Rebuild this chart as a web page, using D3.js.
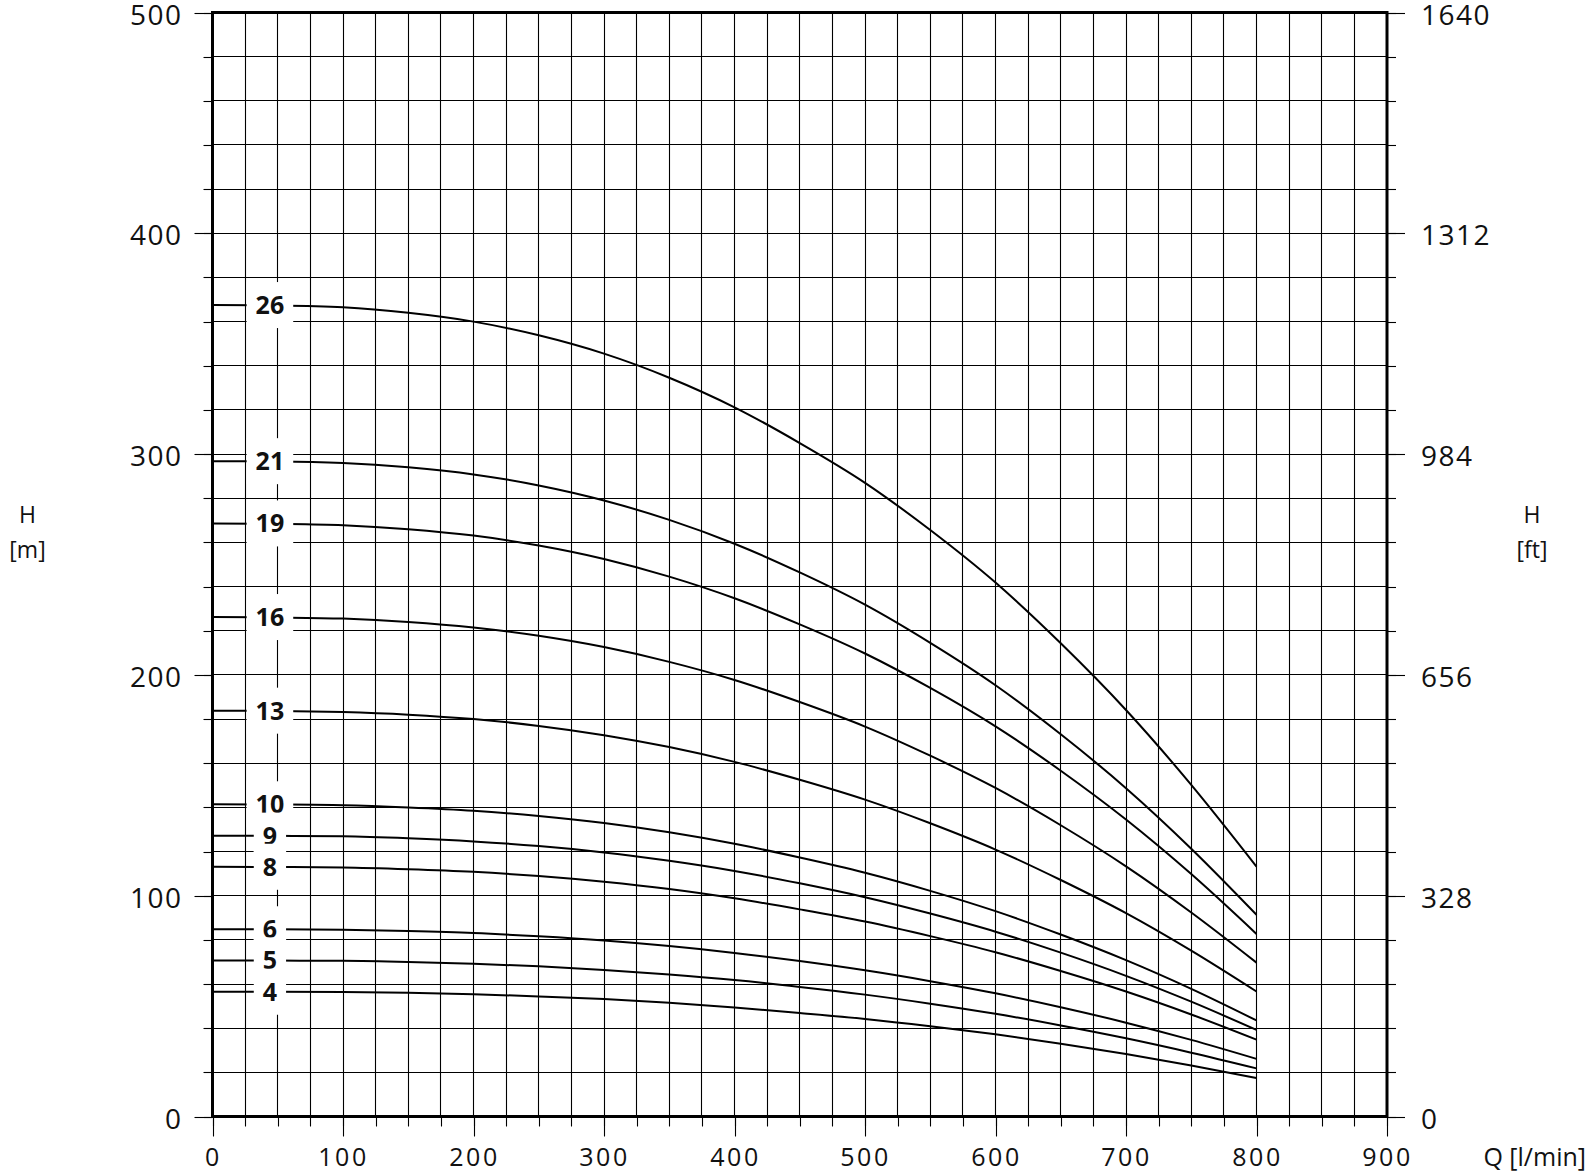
<!DOCTYPE html>
<html>
<head>
<meta charset="utf-8">
<script src="https://cdn.jsdelivr.net/npm/d3@7/dist/d3.min.js"></script>
<style>
  body { margin: 0; background: #fff; }
  text { font-family: "Open Sans", sans-serif; fill: #111; }
</style>
</head>
<body>
<div id="chart"></div>
<script>
// Flow points (l/min) shared by every curve
const flow = [0, 50, 100, 150, 200, 250, 300, 350, 400, 450, 500, 550, 600, 650, 700, 750, 800];

// Head (m) for each stage count
const head26 = [367.5, 367.3, 366.5, 364.0, 360.0, 353.8, 345.5, 334.6, 321.2, 305.0, 287.0, 265.6, 241.8, 214.3, 184.1, 150.2, 113.2];
const head21 = [296.8, 296.7, 296.0, 294.0, 290.8, 285.8, 279.0, 270.2, 259.4, 246.4, 231.8, 214.5, 195.3, 173.1, 148.7, 121.3, 91.4];
const head19 = [268.6, 268.4, 267.8, 266.0, 263.1, 258.6, 252.5, 244.5, 234.7, 222.9, 209.7, 194.1, 176.7, 156.6, 134.5, 109.8, 82.7];
const head16 = [226.2, 226.0, 225.5, 224.0, 221.5, 217.7, 212.6, 205.9, 197.7, 187.7, 176.6, 163.4, 148.8, 131.9, 113.3, 92.4, 69.7];
const head13 = [183.8, 183.7, 183.2, 182.0, 180.0, 176.9, 172.7, 167.3, 160.6, 152.5, 143.5, 132.8, 120.9, 107.1, 92.1, 75.1, 56.6];
const head10 = [141.4, 141.3, 141.0, 140.0, 138.5, 136.1, 132.9, 128.7, 123.5, 117.3, 110.4, 102.2, 93.0, 82.4, 70.8, 57.8, 43.5];
const head9  = [127.2, 127.1, 126.9, 126.0, 124.6, 122.5, 119.6, 115.8, 111.2, 105.6, 99.3, 91.9, 83.7, 74.2, 63.7, 52.0, 39.2];
const head8  = [113.1, 113.0, 112.8, 112.0, 110.8, 108.9, 106.3, 103.0, 98.8, 93.8, 88.3, 81.7, 74.4, 65.9, 56.6, 46.2, 34.8];
const head6  = [84.8, 84.8, 84.6, 84.0, 83.1, 81.6, 79.7, 77.2, 74.1, 70.4, 66.2, 61.3, 55.8, 49.5, 42.5, 34.7, 26.1];
const head5  = [70.7, 70.6, 70.5, 70.0, 69.2, 68.0, 66.4, 64.3, 61.8, 58.7, 55.2, 51.1, 46.5, 41.2, 35.4, 28.9, 21.8];
const head4  = [56.5, 56.5, 56.4, 56.0, 55.4, 54.4, 53.2, 51.5, 49.4, 46.9, 44.2, 40.9, 37.2, 33.0, 28.3, 23.1, 17.4];

const stages = ['26', '21', '19', '16', '13', '10', '9', '8', '6', '5', '4'];
const heads = [head26, head21, head19, head16, head13, head10, head9, head8, head6, head5, head4];

// Axis ticks
const xMajor = [0, 100, 200, 300, 400, 500, 600, 700, 800, 900];
const xMinor = d3.range(0, 901, 25);
const yMajor = [0, 100, 200, 300, 400, 500];
const yMinor = d3.range(0, 501, 20);
const ftMajor = [0, 328, 656, 984, 1312, 1640];

let width = 1588, height = 1173;
let plot = { left: 212.5, right: 1387, top: 12.5, bottom: 1116.5 };

let svg = d3.select('#chart')
    .append('svg')
    .attr('width', width)
    .attr('height', height)
    .style('background', 'white');

let xScale = d3.scaleLinear().domain([0, 900]).range([plot.left, plot.right]);
let yScale = d3.scaleLinear().domain([0, 500]).range([plot.bottom, plot.top]);
let ftScale = d3.scaleLinear().domain([0, 1640]).range([plot.bottom, plot.top]);

// snap a scaled position to the middle of a pixel so 1px lines stay sharp
const snap = v => Math.round(v - 0.5) + 0.5;

// Grid
svg.append('g')
    .selectAll('line')
    .data(xMinor.slice(1, -1))
    .enter().append('line')
    .attr('x1', d => snap(xScale(d))).attr('x2', d => snap(xScale(d)))
    .attr('y1', plot.top).attr('y2', plot.bottom)
    .attr('stroke', 'black').attr('stroke-width', 1.1);

svg.append('g')
    .selectAll('line')
    .data(yMinor.slice(1, -1))
    .enter().append('line')
    .attr('x1', plot.left).attr('x2', plot.right)
    .attr('y1', d => snap(yScale(d))).attr('y2', d => snap(yScale(d)))
    .attr('stroke', 'black').attr('stroke-width', 1.1);

// Ticks and labels
function styleAxis(g, size, spacing) {
    g.select('.domain').remove();
    g.selectAll('line').attr('stroke', 'black').attr('stroke-width', 1.1);
    g.selectAll('text')
        .style('font-size', size + 'px')
        .style('letter-spacing', spacing + 'px')
        .attr('fill', '#111');
}

// vertical axes: move each tick onto a pixel centre
function snapY(g) {
    g.selectAll('.tick').attr('transform', function() {
        let t = d3.select(this).attr('transform').match(/translate\(([^,]+),([^)]+)\)/);
        return `translate(${t[1]},${snap(+t[2])})`;
    });
}
function snapX(g) {
    g.selectAll('.tick').attr('transform', function() {
        let t = d3.select(this).attr('transform').match(/translate\(([^,]+),([^)]+)\)/);
        return `translate(${snap(+t[1])},${t[2]})`;
    });
}

svg.append('g')
    .attr('transform', `translate(${plot.left},0)`)
    .call(d3.axisLeft(yScale).tickValues(yMinor).tickSize(9).tickFormat(''))
    .call(g => styleAxis(g, 10, 0)).call(snapY);

svg.append('g')
    .attr('transform', `translate(${plot.left},0)`)
    .call(d3.axisLeft(yScale).tickValues(yMajor).tickSize(18).tickPadding(12))
    .call(g => styleAxis(g, 28, 1.5)).call(snapY)
    .selectAll('text').attr('dy', '0.42em');

svg.append('g')
    .attr('transform', `translate(${plot.right},0)`)
    .call(d3.axisRight(yScale).tickValues(yMinor).tickSize(9).tickFormat(''))
    .call(g => styleAxis(g, 10, 0)).call(snapY);

svg.append('g')
    .attr('transform', `translate(${plot.right},0)`)
    .call(d3.axisRight(ftScale).tickValues(ftMajor).tickSize(18).tickPadding(16).tickFormat(d3.format('d')))
    .call(g => styleAxis(g, 28, 1.5)).call(snapY)
    .selectAll('text').attr('dy', '0.42em');

svg.append('g')
    .attr('transform', `translate(0,${plot.bottom})`)
    .call(d3.axisBottom(xScale).tickValues(xMinor).tickSize(10).tickFormat(''))
    .call(g => styleAxis(g, 10, 0)).call(snapX);

svg.append('g')
    .attr('transform', `translate(0,${plot.bottom})`)
    .call(d3.axisBottom(xScale).tickValues(xMajor).tickSize(20).tickPadding(12))
    .call(g => styleAxis(g, 25, 2.5)).call(snapX);

// Curves
let line = d3.line()
    .x((d, i) => xScale(flow[i]))
    .y(d => yScale(d))
    .curve(d3.curveMonotoneX);

svg.append('g')
    .selectAll('path')
    .data(heads)
    .enter().append('path')
    .attr('d', d => line(d))
    .attr('fill', 'none')
    .attr('stroke', 'black')
    .attr('stroke-width', 2);

// Frame
svg.append('rect')
    .attr('x', plot.left).attr('y', plot.top)
    .attr('width', plot.right - plot.left)
    .attr('height', plot.bottom - plot.top)
    .attr('fill', 'none')
    .attr('stroke', 'black')
    .attr('stroke-width', 3);

// Stage labels with white boxes
const labelQ = 44;
let labels = svg.append('g')
    .selectAll('g')
    .data(stages)
    .enter().append('g')
    .attr('transform', (d, i) => `translate(${xScale(labelQ)},${yScale(heads[i][0])})`);

labels.append('rect').attr('fill', 'white');

labels.append('text')
    .text(d => d)
    .attr('text-anchor', 'middle')
    .attr('dy', '0.36em')
    .style('font-size', '25px')
    .style('font-weight', 'bold');

labels.each(function() {
    let g = d3.select(this);
    let b = g.select('text').node().getBBox();
    g.select('rect')
        .attr('x', b.x - 9).attr('width', b.width + 18)
        .attr('y', -23).attr('height', 46);
});

// Axis titles
svg.append('text').attr('x', 27.5).attr('y', 523).attr('text-anchor', 'middle')
    .style('font-size', '23px').text('H');
svg.append('text').attr('x', 27.5).attr('y', 558).attr('text-anchor', 'middle')
    .style('font-size', '23px').text('[m]');
svg.append('text').attr('x', 1532).attr('y', 523).attr('text-anchor', 'middle')
    .style('font-size', '23px').text('H');
svg.append('text').attr('x', 1532).attr('y', 558).attr('text-anchor', 'middle')
    .style('font-size', '23px').text('[ft]');
svg.append('text').attr('x', 1586).attr('y', 1166).attr('text-anchor', 'end')
    .style('font-size', '25px').text('Q [l/min]');
</script>
</body>
</html>
